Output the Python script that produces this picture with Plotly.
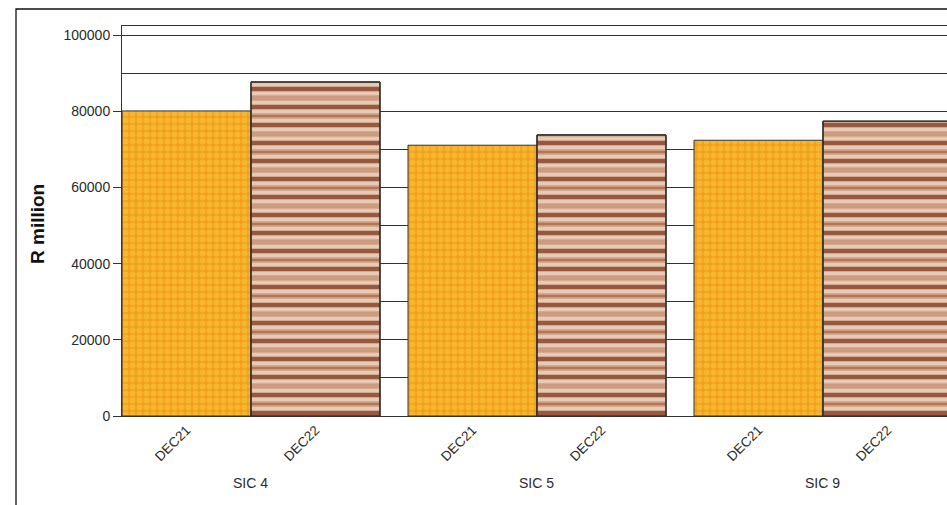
import plotly.graph_objects as go

# Sector groups and reporting periods
groups = ["SIC 4", "SIC 5", "SIC 9"]
periods = ["DEC21", "DEC22"]

# Values in R million
dec21 = [80100, 71100, 72400]
dec22 = [87700, 73800, 77400]

BARGAP = 0.098
FONT = "Arial, Liberation Sans, sans-serif"
TEXT = "#2b2b2b"
LINE = "#333333"

pos = list(range(len(groups)))
fig = go.Figure()

outline = dict(color=LINE, width=1)

# DEC21: orange checkered fill
fig.add_trace(go.Bar(
    x=pos, y=dec21, name=periods[0], offsetgroup="a",
    marker=dict(
        color="#F2A01A",
        line=outline,
        pattern=dict(shape=".", size=7, solidity=0.55,
                     fgcolor="#FCCB48", bgcolor="#F2A01A"),
    ),
))

# DEC22: multi-tone horizontal stripes built from stacked pattern layers
# (tan base, cream bands, occasional brown line, maroon core stripe)
stripe_layers = [
    dict(shape="-", size=9, solidity=0.4, fgcolor="#FFF7F0", bgcolor="#CD9C7E"),
    dict(shape="-", size=36, solidity=0.06, fgcolor="#985030"),
    dict(shape="-", size=18, solidity=0.22, fgcolor="#641200"),
]
for layer in stripe_layers:
    fig.add_trace(go.Bar(
        x=pos, y=dec22, name=periods[1], offsetgroup="b",
        marker=dict(color="rgba(0,0,0,0)", line=outline, pattern=layer),
    ))

# Period tick labels sit under each bar of a group
half = (1 - BARGAP) / 4
tickvals, ticktext = [], []
for i in pos:
    tickvals += [i - half, i + half]
    ticktext += periods

plot_left, plot_top, plot_bottom = 122, 26, 416
W, H = 947, 505
plot_w = W - plot_left
plot_h = plot_bottom - plot_top
px_per_unit = 286.0
x0 = -(1 - BARGAP) / 2

fig.update_layout(
    width=W, height=H,
    margin=dict(l=plot_left, r=0, t=plot_top, b=H - plot_bottom, pad=0),
    paper_bgcolor="white", plot_bgcolor="white",
    barmode="group", bargap=BARGAP, bargroupgap=0,
    showlegend=False,
    font=dict(family=FONT, color=TEXT, size=14),
    xaxis=dict(
        range=[x0, x0 + plot_w / px_per_unit],
        tickmode="array", tickvals=tickvals, ticktext=ticktext,
        tickangle=-45, ticks="", showgrid=False, zeroline=False,
        showline=True, mirror=True, linecolor=LINE, linewidth=1,
        tickfont=dict(size=13.5, color=TEXT),
    ),
    yaxis=dict(
        range=[0, 102400],
        tickmode="linear", tick0=0, dtick=20000, tickformat="d",
        ticks="outside", ticklen=8, tickcolor=LINE, tickwidth=1,
        showgrid=True, gridcolor=LINE, gridwidth=1,
        minor=dict(dtick=10000, showgrid=True, gridcolor=LINE, gridwidth=1),
        zeroline=True, zerolinecolor=LINE, zerolinewidth=1,
        showline=True, linecolor=LINE, linewidth=1,
        tickfont=dict(size=14, color=TEXT),
    ),
)

annotations = [
    dict(text="<b>R million</b>", textangle=-90, xref="paper", yref="paper",
         x=(37 - plot_left) / plot_w, y=(plot_bottom - 224) / plot_h,
         xanchor="center", yanchor="middle", showarrow=False,
         font=dict(size=19, color="#111111", family=FONT)),
]
for i, g in zip(pos, groups):
    annotations.append(dict(
        text=g, xref="x", yref="paper", x=i, y=(plot_bottom - 483) / plot_h,
        xanchor="center", yanchor="middle", showarrow=False,
        font=dict(size=14, color=TEXT, family=FONT),
    ))
fig.update_layout(annotations=annotations)

# Outer frame around the chart
fig.add_shape(
    type="rect", xref="paper", yref="paper",
    x0=(16 - plot_left) / plot_w, x1=1.3,
    y0=-0.6, y1=1 + (plot_top - 9) / plot_h,
    line=dict(color="#111111", width=1.3), fillcolor="rgba(0,0,0,0)",
)

fig.write_html("out.html", config=dict(displayModeBar=False))
